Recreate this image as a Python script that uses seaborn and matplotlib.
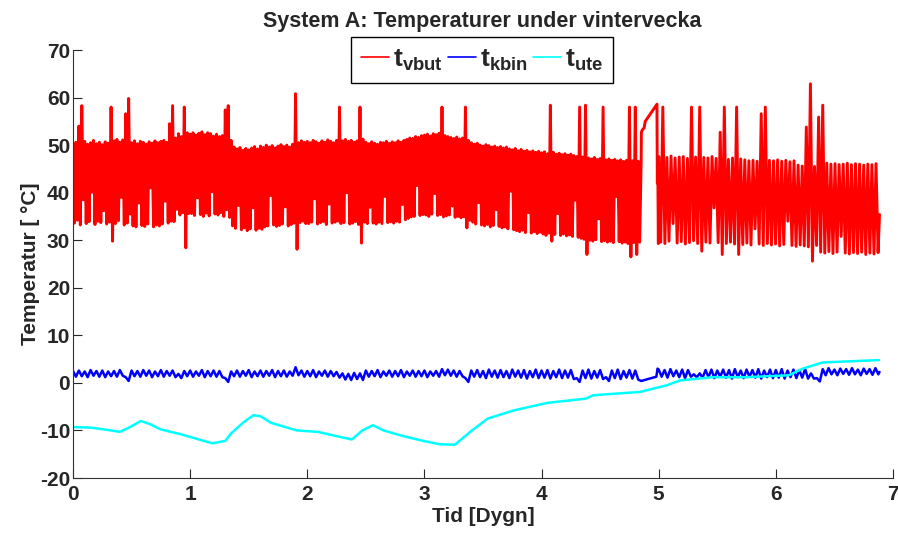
import numpy as np
import pandas as pd
import matplotlib
matplotlib.use("Agg")
import matplotlib.pyplot as plt
import seaborn as sns

# ---- data (time in days, temperature in degC) ----
# t_vbut: peaks / troughs of each on-off cycle, 0 - 4.85 days, one cycle per 0.025 day
vbut_hi_a = [
    50.0, 50.6, 54.0, 58.3, 50.8, 50.2, 50.5, 51.0, 50.3, 50.6,
    50.1, 50.7, 50.4, 58.0, 50.9, 51.2, 50.6, 51.1, 56.6, 59.8,
    50.5, 50.9, 50.3, 50.8, 50.6, 50.2, 50.7, 50.4, 50.9, 50.5,
    50.8, 51.0, 50.6, 54.5, 58.3, 51.5, 52.4, 51.8, 58.0, 52.6,
    52.3, 52.6, 52.1, 52.5, 52.8, 52.2, 52.6, 52.4, 51.9, 52.3,
    51.8, 52.0, 57.4, 58.3, 51.0, 49.6, 49.2, 49.5, 48.9, 49.3,
    49.0, 49.4, 49.7, 49.2, 49.8, 49.5, 50.0, 49.6, 49.9, 49.4,
    49.8, 50.1, 49.7, 50.0, 49.6, 50.2, 60.8, 50.5, 50.9, 50.6,
    50.8, 50.5, 51.0, 50.7, 50.4, 50.9, 50.6, 51.1, 50.8, 50.5,
    51.0, 58.0, 50.9, 51.2, 50.8, 51.0, 50.6, 50.9, 58.0, 51.3,
    50.6, 50.3, 50.7, 50.4, 50.2, 50.6, 50.5, 50.8, 50.4, 50.7,
    50.5, 50.9, 50.6, 51.0, 51.2, 51.5, 51.4, 51.8, 51.6, 52.0,
    52.1, 52.3, 51.9, 52.4, 52.2, 52.5, 58.0, 52.0, 51.8, 51.6,
    51.4, 51.7, 51.3, 51.5, 58.0, 51.0, 50.5, 50.2, 50.4, 50.0,
    49.8, 50.1, 49.9, 49.6, 49.8, 49.5, 49.7, 49.4, 49.6, 49.2,
    49.0, 49.3, 48.8, 49.1, 48.7, 48.9, 48.6, 48.8, 48.5, 48.7,
    48.4, 48.6, 48.2, 58.4, 48.5, 48.1, 48.3, 48.0, 48.2, 47.9,
    48.1, 47.8, 47.6, 58.0, 47.5, 58.4, 47.3, 47.1, 47.4, 47.0,
    47.2, 58.0, 46.9, 47.1, 46.8, 47.0, 46.7, 46.9, 46.6, 46.8,
    58.0, 46.7, 58.0, 46.6,
]
vbut_lo_a = [
    33.6, 34.2, 33.2, 38.5, 33.5, 33.9, 40.1, 33.3, 34.0, 33.7,
    36.2, 33.4, 33.8, 29.8, 33.5, 34.1, 39.0, 33.2, 33.6, 35.5,
    33.0, 32.8, 37.8, 33.1, 32.9, 33.4, 41.0, 32.8, 33.2, 33.0,
    33.4, 38.2, 33.6, 34.0, 33.9, 36.5, 35.3, 35.8, 28.4, 35.6,
    35.6, 35.2, 38.9, 35.4, 35.0, 35.7, 35.1, 40.2, 35.5, 35.3,
    35.8, 35.0, 36.4, 34.8, 33.0, 32.5, 37.3, 32.2, 32.6, 32.0,
    32.4, 36.8, 32.1, 32.5, 32.3, 32.8, 33.0, 39.4, 33.2, 32.9,
    33.1, 33.4, 37.0, 33.0, 33.3, 33.6, 28.1, 33.7, 34.0, 33.5,
    33.5, 33.8, 38.7, 33.4, 33.7, 33.9, 33.3, 37.6, 33.6, 33.8,
    34.0, 33.5, 33.7, 40.0, 33.4, 33.6, 33.9, 33.3, 29.4, 33.8,
    33.5, 36.9, 33.6, 33.4, 33.8, 33.5, 39.2, 33.7, 33.9, 33.6,
    34.0, 33.8, 37.5, 34.3, 34.6, 34.9, 35.0, 41.5, 35.2, 35.4,
    35.3, 35.0, 35.5, 39.8, 35.2, 35.4, 34.9, 35.1, 35.3, 37.2,
    34.8, 35.0, 34.7, 34.9, 32.6, 34.2, 33.8, 33.4, 37.9, 33.2,
    33.0, 33.3, 32.8, 33.1, 36.4, 32.9, 32.6, 32.8, 32.4, 40.3,
    32.2, 32.0, 31.8, 32.1, 31.6, 35.8, 31.5, 31.8, 31.4, 31.7,
    31.3, 31.0, 31.5, 29.8, 31.2, 35.6, 31.0, 31.3, 30.9, 31.1,
    30.8, 38.4, 30.6, 30.4, 30.2, 27.0, 30.0, 29.8, 30.1, 34.5,
    29.7, 29.9, 29.6, 29.8, 29.5, 39.2, 29.7, 29.4, 29.6, 29.3,
    26.5, 29.5, 27.0, 29.6,
]
# slow rise while the heater was off
vbut_ramp_t = [4.85, 4.852, 4.86, 4.875, 4.885, 4.93, 4.985, 4.988, 4.993, 4.997]
vbut_ramp_v = [46.6, 52.7, 53.2, 53.6, 55.0, 56.6, 58.6, 42.0, 42.0, 29.3]
# 5.0 - 6.86 days, one cycle per 0.035 day
vbut_hi_b = [
    47.6, 58.0, 47.4, 47.7, 47.3, 47.5, 47.6, 47.2, 58.0, 47.5,
    58.0, 47.4, 47.3, 47.6, 47.2, 52.7, 58.0, 47.0, 47.3, 58.0,
    47.1, 46.9, 46.7, 46.8, 46.6, 56.6, 58.0, 46.8, 46.7, 46.9,
    46.6, 46.8, 46.5, 46.7, 45.8, 45.6, 53.8, 62.9, 45.5, 55.9,
    58.4, 46.2, 46.0, 46.1, 45.9, 46.0, 46.2, 45.9, 46.1, 46.0,
    45.8, 46.0, 45.9, 46.1,
]
vbut_lo_b = [
    29.6, 29.3, 29.8, 33.5, 29.4, 29.7, 29.2, 29.5, 29.9, 29.3,
    27.7, 29.6, 29.4, 36.8, 29.5, 27.0, 29.3, 29.6, 29.2, 27.0,
    29.1, 29.4, 29.0, 32.4, 29.2, 28.9, 29.3, 29.0, 29.2, 28.8,
    29.1, 34.0, 28.9, 28.7, 29.0, 28.8, 28.6, 25.6, 28.9, 27.5,
    27.3, 27.6, 27.2, 27.5, 30.8, 27.3, 27.1, 27.4, 27.2, 27.5,
    27.0, 27.3, 27.1, 27.4,
]
vbut_end = (6.885, 35.4)

# t_kbin: small oscillation, one cycle per 0.05 day
kbin_hi_a = [
    2.5, 2.6, 2.4, 2.7, 2.5, 2.6, 2.4, 2.5, 2.7, 1.2,
    2.6, 2.5, 2.7, 2.6, 2.4, 2.7, 2.5, 2.6, 1.9, 2.5,
    2.6, 2.4, 2.7, 2.5, 2.6, 2.5, 1.0, 2.4, 2.6, 2.5,
    2.7, 2.4, 2.6, 2.5, 2.7, 2.5, 2.6, 2.4, 3.3, 2.6,
    2.5, 2.7, 2.4, 2.6, 2.5, 2.3, 2.0, 1.9, 2.1, 2.0,
    2.6, 2.5, 2.7, 2.4, 2.6, 2.5, 2.7, 2.4, 2.6, 2.5,
    2.6, 2.4, 2.5, 2.9, 2.8, 2.6, 2.5, 1.0, 2.6, 2.7,
    2.5, 2.8, 2.6, 2.7, 2.5, 2.8, 2.6, 2.7, 2.5, 2.8,
    2.6, 2.7, 2.5, 2.8, 2.6, 2.7, 1.0, 2.6, 2.8, 2.5,
    2.7, 1.2, 2.6, 2.8, 2.5, 2.7, 2.6,
]
kbin_lo_a = [
    1.3, 1.4, 1.2, 1.5, 1.3, 1.2, 1.4, 1.3, 1.5, 0.4,
    1.4, 1.3, 1.5, 1.2, 1.4, 1.3, 1.5, 1.2, 1.0, 1.4,
    1.3, 1.5, 1.2, 1.4, 1.3, 1.2, 0.2, 1.4, 1.3, 1.5,
    1.2, 1.4, 1.3, 1.5, 1.2, 1.4, 1.3, 1.5, 1.6, 1.3,
    1.4, 1.2, 1.5, 1.3, 1.4, 1.1, 0.7, 0.6, 0.8, 0.6,
    1.3, 1.4, 1.2, 1.5, 1.3, 1.4, 1.2, 1.5, 1.3, 1.4,
    1.2, 1.5, 1.3, 1.6, 1.5, 1.3, 1.4, 0.2, 1.3, 1.2,
    1.0, 1.3, 1.1, 1.2, 1.0, 1.3, 1.1, 0.9, 1.2, 1.0,
    1.1, 0.9, 1.2, 1.0, 1.1, 0.8, 0.2, 1.0, 0.9, 1.1,
    0.8, 0.4, 1.0, 0.8, 1.1, 0.9, 0.7,
]
kbin_ramp_t = [4.85, 4.98, 4.99]
kbin_ramp_v = [0.4, 1.3, 3.0]
kbin_hi_b = [
    2.8, 2.7, 2.9, 2.6, 2.8, 2.7, 1.8, 2.0, 2.7, 2.8,
    2.6, 2.8, 2.7, 2.9, 2.6, 2.8, 2.7, 2.9, 2.6, 2.8,
    2.7, 2.9, 2.6, 2.8, 2.7, 2.9, 2.0, 1.0, 2.9, 3.1,
    2.8, 3.0, 2.9, 3.1, 2.8, 3.0, 2.9, 3.1,
]
kbin_lo_b = [
    1.3, 1.1, 1.4, 1.2, 1.0, 1.3, 1.2, 1.1, 1.2, 1.0,
    1.3, 1.1, 0.9, 1.2, 1.0, 1.3, 1.1, 0.9, 1.2, 1.0,
    1.1, 0.9, 1.2, 1.0, 1.1, 0.9, 0.9, 0.3, 1.6, 1.8,
    1.6, 1.9, 1.7, 1.8, 1.6, 1.9, 1.7, 1.8,
]
kbin_end = (6.885, 2.3)

# t_ute: outdoor temperature
ute_t = [0.00, 0.15, 0.27, 0.40, 0.47, 0.58, 0.66, 0.75, 0.92, 1.06,
         1.19, 1.30, 1.35, 1.46, 1.54, 1.60, 1.69, 1.91, 2.09, 2.25,
         2.38, 2.47, 2.56, 2.65, 2.82, 2.99, 3.13, 3.26, 3.39, 3.54,
         3.76, 4.05, 4.38, 4.44, 4.84, 5.07, 5.18, 5.46, 5.75, 6.11,
         6.23, 6.40, 6.60, 6.88]
ute_v = [-9.3, -9.4, -9.8, -10.3, -9.5, -8.0, -8.7, -9.8, -10.8, -11.8,
         -12.7, -12.2, -10.6, -8.2, -6.8, -7.0, -8.4, -10.0, -10.3, -11.2,
         -11.9, -10.0, -8.9, -10.0, -11.2, -12.2, -12.9, -13.0, -10.3, -7.5,
         -5.8, -4.2, -3.3, -2.6, -1.9, -0.5, 0.5, 1.2, 1.2, 1.6,
         3.0, 4.3, 4.5, 4.8]


def zigzag(t0, step, hi, lo):
    # peak at each sample time, trough half a step later
    hi = np.asarray(hi, float)
    lo = np.asarray(lo, float)
    t = t0 + step * np.arange(len(hi))
    tt = np.empty(2 * len(hi))
    vv = np.empty(2 * len(hi))
    tt[0::2], tt[1::2] = t, t + step / 2
    vv[0::2], vv[1::2] = hi, lo
    return tt, vv


ta, va = zigzag(0.0, 0.025, vbut_hi_a, vbut_lo_a)
tb, vb = zigzag(5.0, 0.035, vbut_hi_b, vbut_lo_b)
vbut = pd.DataFrame({
    "t": np.concatenate([ta, vbut_ramp_t, tb, [vbut_end[0]]]),
    "v": np.concatenate([va, vbut_ramp_v, vb, [vbut_end[1]]]),
})

ta, va = zigzag(0.0, 0.05, kbin_hi_a, kbin_lo_a)
tb, vb = zigzag(5.0, 0.05, kbin_hi_b, kbin_lo_b)
kbin = pd.DataFrame({
    "t": np.concatenate([ta, kbin_ramp_t, tb, [kbin_end[0]]]),
    "v": np.concatenate([va, kbin_ramp_v, vb, [kbin_end[1]]]),
})

ute = pd.DataFrame({"t": ute_t, "v": ute_v})

# ---- style ----
sns.set_style("ticks")
plt.rcParams["font.family"] = ["Liberation Sans", "DejaVu Sans"]
plt.rcParams["font.weight"] = "bold"
plt.rcParams["axes.unicode_minus"] = False
plt.rcParams["mathtext.fontset"] = "custom"
plt.rcParams["mathtext.rm"] = "Liberation Sans:bold"
plt.rcParams["mathtext.bf"] = "Liberation Sans:bold"
plt.rcParams["mathtext.it"] = "Liberation Sans:bold"

fig = plt.figure(figsize=(8.98, 5.35), dpi=100)
ax = fig.add_axes([73 / 898, 1 - 478 / 535, 820 / 898, 428 / 535])

sns.lineplot(data=vbut, x="t", y="v", ax=ax, color="#ff0000", lw=2.1,
             estimator=None, sort=False, label=r"$\mathbf{t}_{\mathbf{vbut}}$")
sns.lineplot(data=kbin, x="t", y="v", ax=ax, color="#0000ff", lw=1.8,
             estimator=None, sort=False, label=r"$\mathbf{t}_{\mathbf{kbin}}$")
sns.lineplot(data=ute, x="t", y="v", ax=ax, color="#00ffff", lw=1.8,
             estimator=None, sort=False, label=r"$\mathbf{t}_{\mathbf{ute}}$")

ax.set_xlim(0, 7)
ax.set_ylim(-20, 70)
ax.set_xticks(range(0, 8))
ax.set_yticks(range(-20, 71, 10))
ax.tick_params(direction="in", length=6.5, width=0.8, labelsize=15, pad=5)
ax.tick_params(axis="y", pad=2)
for lab in ax.get_xticklabels() + ax.get_yticklabels():
    lab.set_fontweight("bold")
sns.despine(ax=ax)
ax.spines["left"].set_color("#333333")
ax.spines["bottom"].set_color("#333333")

ax.set_xlabel("Tid [Dygn]", fontsize=15, fontweight="bold", labelpad=2)
ax.set_ylabel("Temperatur [ °C]", fontsize=15, fontweight="bold", labelpad=0)
fig.text(482 / 898, 1 - 22 / 535, "System A: Temperaturer under vintervecka",
         ha="center", va="center", fontsize=15.5, fontweight="bold")

leg = ax.legend(loc="upper center", bbox_to_anchor=(482 / 898, 1 - 37 / 535),
                bbox_transform=fig.transFigure, ncol=3, fontsize=19,
                frameon=True, fancybox=False, framealpha=1, edgecolor="black",
                handlelength=1.05, handletextpad=0.15, columnspacing=0.2,
                borderpad=0.4, borderaxespad=0)
leg.get_frame().set_linewidth(1.0)
for line in leg.get_lines():
    line.set_linewidth(1.2)
leg.set_zorder(10)

fig.savefig("out.png", dpi=100)
